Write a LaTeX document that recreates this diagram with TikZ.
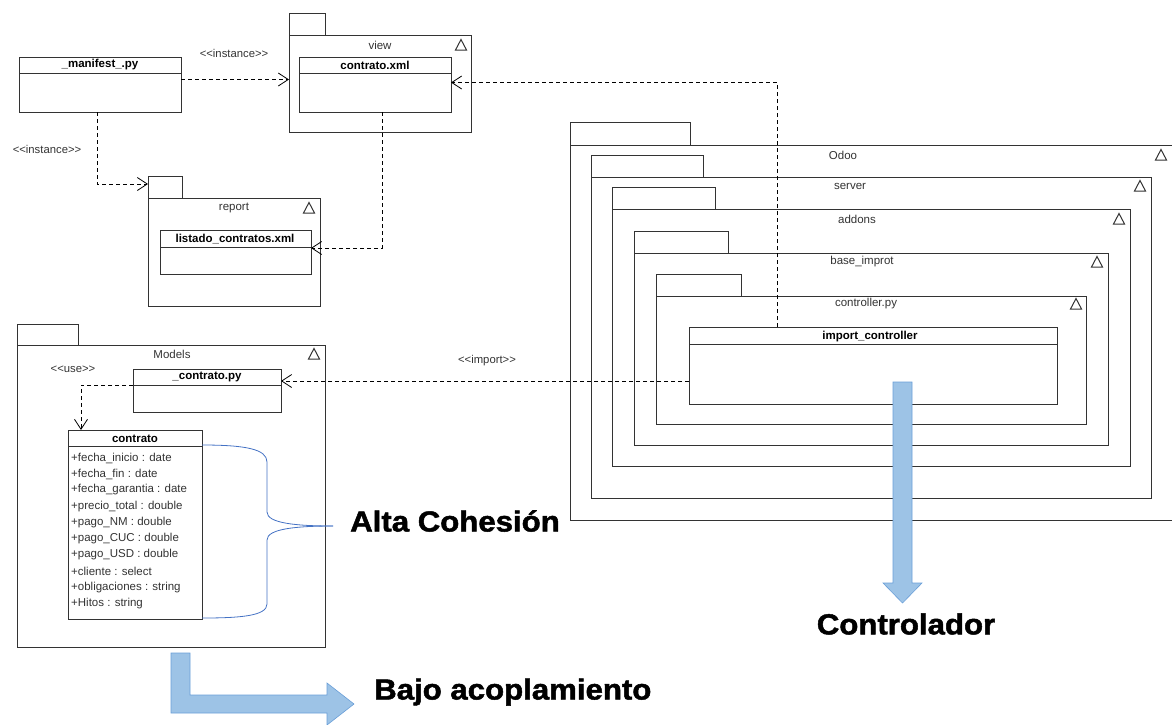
\documentclass[tikz,border=0pt]{standalone}
\usepackage{fontspec}
\setmainfont{Liberation Sans}
\newfontfamily\heavyfont[BoldFeatures={FakeBold=1.6}]{Liberation Sans}
\usetikzlibrary{arrows.meta}
\definecolor{ink}{HTML}{333333}
\definecolor{bluefill}{HTML}{9DC3E6}
\definecolor{blueedge}{HTML}{6A9FD8}
\definecolor{bracecol}{HTML}{4472C4}
\tikzset{
  box/.style={draw=ink, line width=0.9pt, anchor=north west, inner sep=0pt, outer sep=0pt},
  dep/.style={draw=black, line width=0.8pt, dash pattern=on 4pt off 3pt, -{Straight Barb[length=10pt,width=13pt,line width=0.8pt]}},
  lbl/.style={font=\fontsize{11.5}{12}\selectfont, text=ink, inner sep=0pt},
  stereo/.style={font=\fontsize{11.3}{12}\selectfont, text=ink, inner sep=0pt},
  ttl/.style={font=\fontsize{11.5}{12}\selectfont\bfseries, text=black, inner sep=0pt},
  attr/.style={font=\fontsize{11.5}{12}\selectfont, text=ink, inner sep=0pt, anchor=west},
  big/.style={font=\fontsize{29}{32}\selectfont\heavyfont\bfseries, text=black, inner sep=0pt, xscale=1.075},
  bigarrow/.style={fill=bluefill, draw=blueedge, line width=0.6pt},
  tri/.pic={\draw[ink, line width=1pt, line join=miter] (-5.5,5) -- (0,-5.5) -- (5.5,5) -- cycle;}
}
\begin{document}
\begin{tikzpicture}[x=1pt,y=-1pt]
\useasboundingbox (0,0) rectangle (1172,724);

% manifest class
\node[box, minimum width=162pt, minimum height=55pt] (manifest) at (19,57) {};
\draw[ink, line width=0.9pt] (19,73) -- (181,73);
\node[ttl] (manifestT) at (100,65) {\_manifest\_.py};

% view package
\node[box, minimum width=36pt, minimum height=22pt] (viewtab) at (289,13) {};
\node[box, minimum width=182pt, minimum height=97pt] (viewbody) at (289,35) {};
\node[lbl] (viewL) at (380,45) {view};
\pic at (461,45) {tri};
\node[box, minimum width=152pt, minimum height=55pt] (cxml) at (299,57) {};
\draw[ink, line width=0.9pt] (299,73) -- (451,73);
\node[ttl] (cxmlT) at (375,65) {contrato.xml};

% report package
\node[box, minimum width=34pt, minimum height=22pt] (reporttab) at (148,176) {};
\node[box, minimum width=172pt, minimum height=108pt] (reportbody) at (148,198) {};
\node[lbl] (reportL) at (234,208) {report};
\pic at (309,208) {tri};
\node[box, minimum width=151pt, minimum height=44pt] (listado) at (160,230) {};
\draw[ink, line width=0.9pt] (160,247) -- (311,247);
\node[ttl] (listadoT) at (235,239) {listado\_contratos.xml};

% Models package
\node[box, minimum width=61pt, minimum height=21pt] (modelstab) at (17,324) {};
\node[box, minimum width=308pt, minimum height=302pt] (modelsbody) at (17,345) {};
\node[lbl] (modelsL) at (172,354) {Models};
\pic at (314,354) {tri};
\node[box, minimum width=148pt, minimum height=43pt] (cpy) at (133,369) {};
\draw[ink, line width=0.9pt] (133,385) -- (281,385);
\node[ttl] (cpyT) at (207,377) {\_contrato.py};
\node[box, minimum width=134pt, minimum height=189pt] (contrato) at (68,430) {};
\draw[ink, line width=0.9pt] (68,446) -- (202,446);
\node[ttl] (contratoT) at (135,439) {contrato};
\node[attr] (a1) at (71,458) {+fecha\_inicio : date};
\node[attr] (a2) at (71,474) {+fecha\_fin : date};
\node[attr] (a3) at (71,490) {+fecha\_garantia : date};
\node[attr] (a4) at (71,507) {+precio\_total : double};
\node[attr] (a5) at (71,523) {+pago\_NM : double};
\node[attr] (a6) at (71,539) {+pago\_CUC : double};
\node[attr] (a7) at (71,555) {+pago\_USD : double};
\node[attr] (a8) at (71,571) {+cliente : select};
\node[attr] (a9) at (71,588) {+obligaciones : string};
\node[attr] (a10) at (71,604) {+Hitos : string};

% Odoo nested packages
\node[box, minimum width=120pt, minimum height=23pt] (odootab) at (570,122) {};
\draw[ink, line width=0.9pt] (1180,145) -- (570,145) -- (570,520) -- (1180,520);
\node[lbl] (odooL) at (843,155) {Odoo};
\pic at (1161,155) {tri};

\node[box, minimum width=112pt, minimum height=22pt] (servertab) at (591,155) {};
\node[box, minimum width=560pt, minimum height=321pt] (serverbody) at (591,177) {};
\node[lbl] (serverL) at (850,186) {server};
\pic at (1140,186) {tri};

\node[box, minimum width=103pt, minimum height=22pt] (addonstab) at (612,187) {};
\node[box, minimum width=518pt, minimum height=257pt] (addonsbody) at (612,209) {};
\node[lbl] (addonsL) at (857,219) {addons};
\pic at (1119,219) {tri};

\node[box, minimum width=94pt, minimum height=22pt] (basetab) at (634,231) {};
\node[box, minimum width=474pt, minimum height=192pt] (basebody) at (634,253) {};
\node[lbl] (baseL) at (862,262) {base\_improt};
\pic at (1097,262) {tri};

\node[box, minimum width=85pt, minimum height=22pt] (ctrltab) at (656,274) {};
\node[box, minimum width=430pt, minimum height=128pt] (ctrlbody) at (656,296) {};
\node[lbl] (ctrlL) at (866,304) {controller.py};
\pic at (1076,304) {tri};

\node[box, minimum width=368pt, minimum height=77pt] (importc) at (689,327) {};
\draw[ink, line width=0.9pt] (689,344) -- (1057,344);
\node[ttl] (importcT) at (870,337) {import\_controller};

% dependencies
\draw[dep] ([yshift=5pt]manifest.east) -- ([yshift=5pt]manifest.east -| viewbody.west);
\node[stereo] (s1) at (234,53) {<{}<instance>{}>};
\draw[dep] ([xshift=-3pt]manifest.south) |- ([yshift=3pt]reporttab.west);
\node[stereo] (s2) at (47,149) {<{}<instance>{}>};
\draw[dep] ([xshift=7pt]cxml.south) |- ([yshift=4pt]listado.east);
\draw[dep] ([xshift=-96pt]importc.north) |- ([yshift=2pt]cxml.east);
\draw[dep] ([yshift=-15.5pt]importc.west) -- ([yshift=-15.5pt]importc.west -| cpy.east);
\node[stereo] (s3) at (487,361) {<{}<import>{}>};
\draw[dep] ([yshift=5.5pt]cpy.west) -| ([xshift=-54pt]contrato.north);
\node[stereo] (s4) at (73,369) {<{}<use>{}>};

% brace
\draw[bracecol, line width=0.8pt] (202,445) .. controls (245,445) and (267,449) .. (267,462) -- (267,512) .. controls (267,523) and (295,526) .. (333,526);
\draw[bracecol, line width=0.8pt] (333,526) .. controls (295,526) and (267,529) .. (267,540) -- (267,604) .. controls (267,616) and (240,618) .. (202,618);

% big labels
\node[big, anchor=west] (alta) at (350,521) {Alta Cohesión};
\node[big] (ctrlr) at (906,624) {Controlador};
\node[big, anchor=west] (bajo) at (374,692) {Bajo acoplamiento};

% blue arrows
\draw[bigarrow] (893,382) -- (912,382) -- (912,583) -- (922,583) -- (902.5,603) -- (883,583) -- (893,583) -- cycle;
\draw[bigarrow] (171,653) -- (190,653) -- (190,695) -- (327,695) -- (327,683) -- (354,704) -- (327,725) -- (327,713) -- (171,713) -- cycle;
\end{tikzpicture}
\end{document}
